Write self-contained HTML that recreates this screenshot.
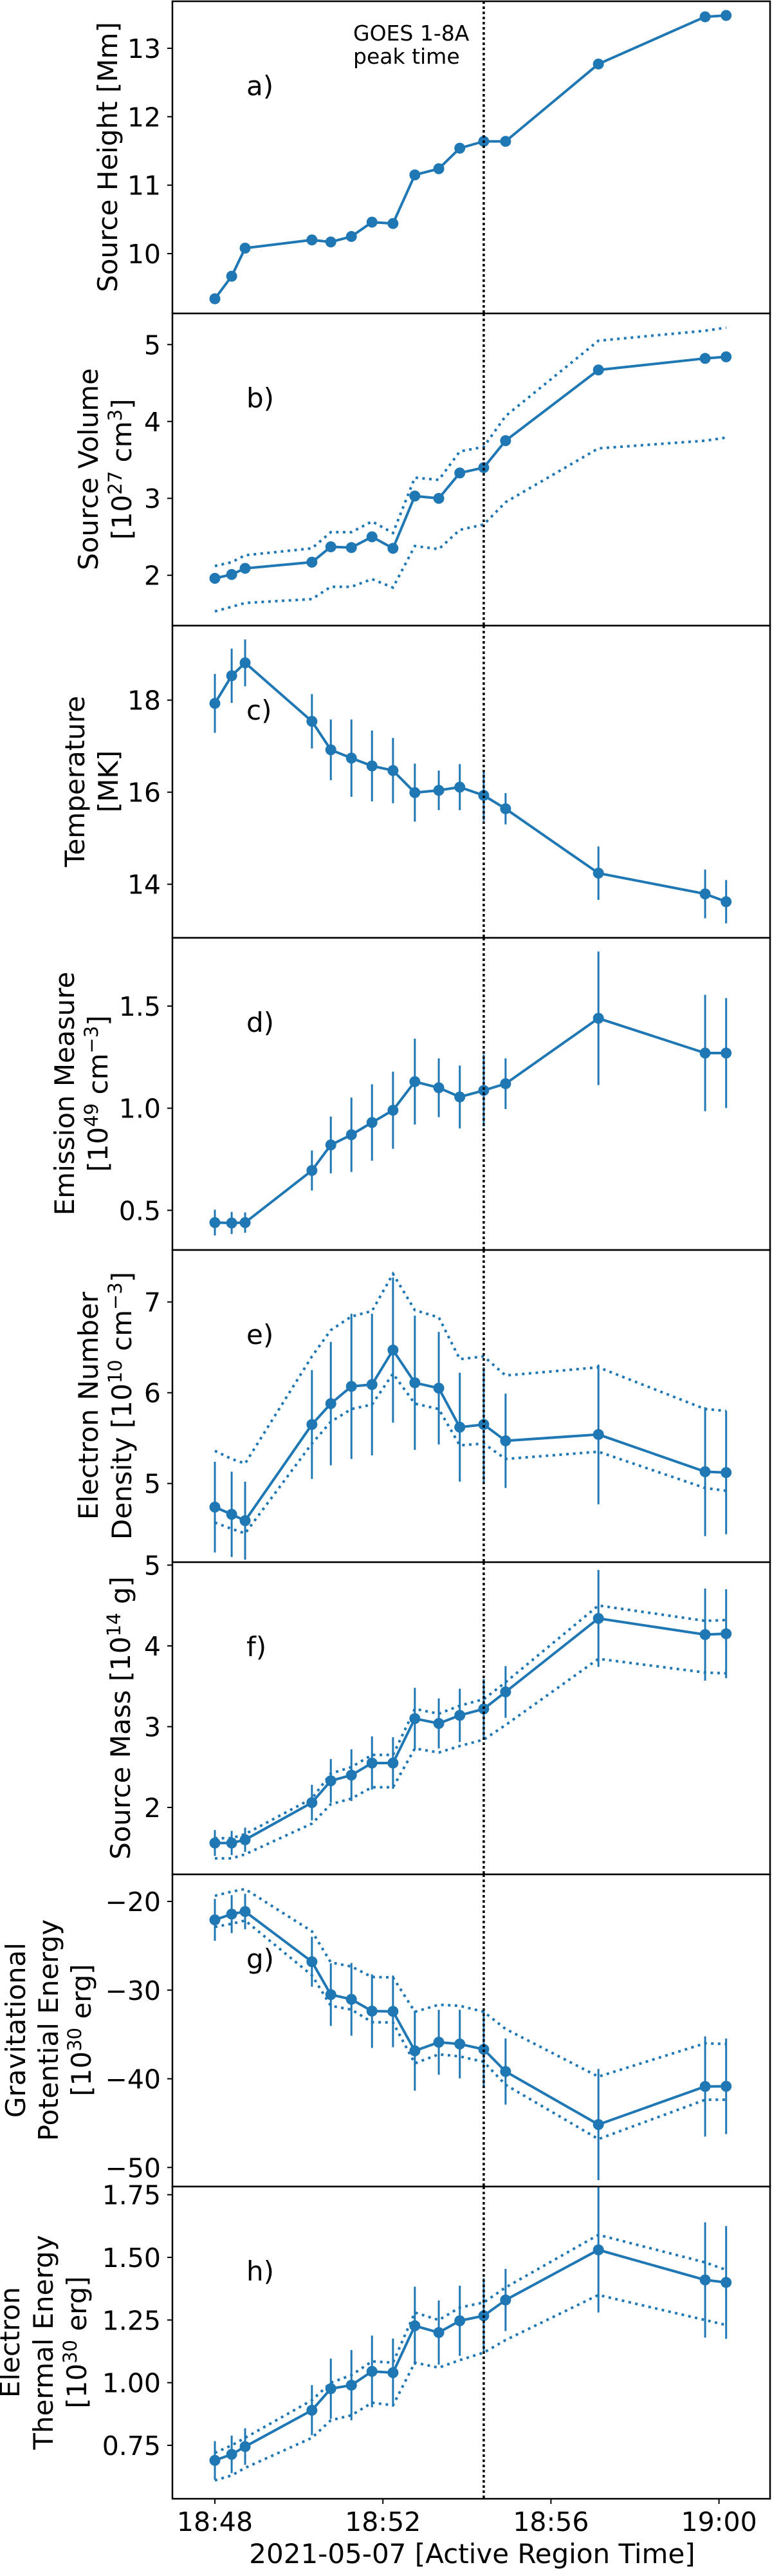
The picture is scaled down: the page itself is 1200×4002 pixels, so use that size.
<!DOCTYPE html>
<html><head><meta charset="utf-8"><title>Flare source parameters</title>
<style>html,body{margin:0;padding:0;background:#fff}svg{display:block}text{font-family:"DejaVu Sans","Liberation Sans",sans-serif;fill:#000}</style>
</head><body>
<svg id="chart" width="1200" height="4002" viewBox="0 0 1200 4002" xmlns="http://www.w3.org/2000/svg"></svg>
<script>
// ---- shared x data (minutes after 18:48) ----
const timesMin = [0,0.40,0.72,2.31,2.76,3.25,3.74,4.24,4.76,5.33,5.83,6.40,6.92,9.13,11.67,12.17];
const xTickMin = [0,4,8,12];
const xTickLabels = ["18:48","18:52","18:56","19:00"];
const peakMin = 6.40;

// a) source height
const heightVals = [9.34,9.67,10.08,10.20,10.17,10.25,10.46,10.44,11.15,11.24,11.54,11.64,11.64,12.77,13.46,13.48];
const heightTicks = [10,11,12,13];
// b) source volume
const volumeVals = [1.96,2.01,2.09,2.17,2.37,2.36,2.50,2.35,3.03,3.00,3.33,3.40,3.75,4.67,4.82,4.84];
const volumeUpper = [2.12,2.17,2.26,2.35,2.56,2.56,2.70,2.55,3.27,3.24,3.61,3.67,4.07,5.05,5.18,5.22];
const volumeLower = [1.53,1.59,1.64,1.69,1.85,1.85,1.95,1.84,2.38,2.34,2.59,2.66,2.95,3.65,3.75,3.79];
const volumeTicks = [2,3,4,5];
// c) temperature
const tempVals = [17.93,18.53,18.81,17.54,16.92,16.74,16.57,16.47,15.99,16.04,16.11,15.93,15.64,14.24,13.79,13.62];
const tempErr = [0.64,0.59,0.51,0.59,0.66,0.84,0.77,0.71,0.63,0.43,0.50,0.55,0.34,0.58,0.53,0.47];
const tempTicks = [14,16,18];
// d) emission measure
const emVals = [0.44,0.438,0.44,0.695,0.82,0.87,0.93,0.99,1.13,1.10,1.055,1.087,1.12,1.44,1.27,1.27];
const emErr = [0.063,0.054,0.05,0.098,0.139,0.182,0.187,0.189,0.21,0.144,0.154,0.176,0.124,0.327,0.285,0.269];
const emTicks = [0.5,1.0,1.5];
// e) density
const densVals = [4.74,4.66,4.59,5.65,5.88,6.07,6.09,6.47,6.11,6.05,5.62,5.65,5.47,5.54,5.13,5.12];
const densErr = [0.50,0.47,0.43,0.60,0.68,0.80,0.78,0.80,0.74,0.62,0.60,0.63,0.52,0.77,0.71,0.68];
const densUpper = [5.36,5.27,5.22,6.40,6.69,6.84,6.90,7.31,6.91,6.83,6.37,6.40,6.19,6.28,5.82,5.80];
const densLower = [4.57,4.50,4.45,5.44,5.68,5.82,5.87,6.21,5.88,5.82,5.42,5.44,5.27,5.35,4.95,4.92];
const densTicks = [5,6,7];
// f) mass
const massVals = [1.56,1.56,1.60,2.06,2.33,2.40,2.55,2.55,3.10,3.04,3.14,3.22,3.43,4.34,4.14,4.15];
const massErr = [0.16,0.15,0.15,0.22,0.27,0.32,0.33,0.32,0.38,0.31,0.33,0.37,0.32,0.60,0.57,0.55];
const massUpper = [1.62,1.62,1.67,2.11,2.42,2.50,2.65,2.65,3.22,3.16,3.26,3.34,3.55,4.50,4.31,4.32];
const massLower = [1.37,1.37,1.42,1.80,2.04,2.11,2.25,2.25,2.73,2.68,2.76,2.84,3.02,3.84,3.67,3.66];
const massTicks = [2,3,4,5];
// g) gravitational potential energy
const gpeVals = [-22.08,-21.43,-21.14,-26.80,-30.51,-31.04,-32.37,-32.40,-36.85,-35.88,-36.08,-36.68,-39.18,-45.16,-40.87,-40.85];
const gpeErr = [2.36,2.14,2.0,2.82,3.53,4.1,4.15,4.04,4.5,3.66,3.87,4.3,3.73,6.27,5.65,5.39];
const gpeUpper = [-19.37,-18.89,-18.60,-23.37,-26.88,-27.34,-28.52,-28.57,-32.45,-31.65,-31.77,-32.45,-34.38,-39.76,-36.0,-36.08];
const gpeLower = [-22.88,-22.52,-22.15,-28.33,-31.77,-32.20,-33.61,-33.66,-38.26,-37.24,-37.48,-38.09,-40.68,-46.80,-42.37,-42.37];
const gpeTicks = [-50,-40,-30,-20];
// h) thermal energy
const theVals = [0.69,0.714,0.745,0.89,0.976,0.99,1.045,1.04,1.227,1.20,1.247,1.267,1.33,1.53,1.41,1.40];
const theErr = [0.077,0.075,0.073,0.10,0.12,0.14,0.143,0.136,0.156,0.128,0.14,0.15,0.124,0.25,0.23,0.225];
const theUpper = [0.72,0.75,0.78,0.93,1.00,1.03,1.085,1.08,1.28,1.25,1.30,1.32,1.38,1.59,1.48,1.45];
const theLower = [0.61,0.63,0.66,0.78,0.85,0.87,0.92,0.91,1.08,1.06,1.09,1.12,1.17,1.35,1.25,1.23];
const theTicks = [0.75,1.00,1.25,1.50,1.75];

const NS = "http://www.w3.org/2000/svg";
const svg = document.getElementById('chart');
const C0 = "#1f77b4";
const L = 268, R = 1197, PH = 485, TOP0 = 2;
function xScale(m){ return 334 + m * 65.3; }
function mk(tag, attrs, parent){
  const e = document.createElementNS(NS, tag);
  for (const k in attrs) e.setAttribute(k, attrs[k]);
  (parent || svg).appendChild(e);
  return e;
}
function fmt(v, ticks){
  const dec = ticks.some(t => Math.abs(t*10 - Math.round(t*10)) > 1e-6) ? 2 : (ticks.some(t => !Number.isInteger(t)) ? 1 : 0);
  return v.toFixed(dec).replace('-', '\u2212');
}

const panels = [
  {key:'a', vals:heightVals, ticks:heightTicks, cal:[13,75,10,394], lines:[{t:'Source Height [Mm]',x:182}]},
  {key:'b', vals:volumeVals, up:volumeUpper, lo:volumeLower, ticks:volumeTicks, cal:[5,535.3,2,893.7],
    lines:[{t:'Source Volume',x:152},{h:'[10<tspan dy="-15" font-size="29">27</tspan><tspan dy="15"> cm</tspan><tspan dy="-15" font-size="29">3</tspan><tspan dy="15">]</tspan>',x:204}]},
  {key:'c', vals:tempVals, err:tempErr, ticks:tempTicks, cal:[18,1087.7,14,1373.7], lines:[{t:'Temperature',x:131},{t:'[MK]',x:183}]},
  {key:'d', vals:emVals, err:emErr, ticks:emTicks, cal:[1.5,1563,0.5,1880.3],
    lines:[{t:'Emission Measure',x:115},{h:'[10<tspan dy="-15" font-size="29">49</tspan><tspan dy="15"> cm</tspan><tspan dy="-15" font-size="29">\u22123</tspan><tspan dy="15">]</tspan>',x:167}]},
  {key:'e', vals:densVals, err:densErr, up:densUpper, lo:densLower, ticks:densTicks, cal:[7,2022.7,5,2304.7],
    lines:[{t:'Electron Number',x:152},{h:'Density [10<tspan dy="-15" font-size="29">10</tspan><tspan dy="15"> cm</tspan><tspan dy="-15" font-size="29">\u22123</tspan><tspan dy="15">]</tspan>',x:204}]},
  {key:'f', vals:massVals, err:massErr, up:massUpper, lo:massLower, ticks:massTicks, cal:[4,2557,2,2808],
    lines:[{h:'Source Mass [10<tspan dy="-15" font-size="29">14</tspan><tspan dy="15"> g]</tspan>',x:202}]},
  {key:'g', vals:gpeVals, err:gpeErr, up:gpeUpper, lo:gpeLower, ticks:gpeTicks, cal:[-20,2954,-50,3367.3],
    lines:[{t:'Gravitational',x:39},{t:'Potential Energy',x:90},{h:'[10<tspan dy="-15" font-size="29">30</tspan><tspan dy="15"> erg]</tspan>',x:141}]},
  {key:'h', vals:theVals, err:theErr, up:theUpper, lo:theLower, ticks:theTicks, cal:[1.50,3507,0.75,3799],
    lines:[{t:'Electron',x:30},{t:'Thermal Energy',x:82},{h:'[10<tspan dy="-15" font-size="29">30</tspan><tspan dy="15"> erg]</tspan>',x:134}]}
];

panels.forEach((p, i) => {
  const top = TOP0 + i * PH, bot = top + PH;
  const [v1, y1, v2, y2] = p.cal;
  const yS = v => y1 + (v - v1) * (y2 - y1) / (v2 - v1);
  const g = mk('g', {});
  
  
  const bg = mk('rect', {x:L, y:top, width:R-L, height:PH, fill:'#fff'}, g);
  
  
  p.ticks.forEach(t => {
    const y = yS(t);
    if (y < top - 12 || y > bot + 12) return;
    const tk = mk('line', {x1:L-8, x2:L, y1:y, y2:y, stroke:'#000', 'stroke-width':2}, g);
    
    
    const lb = mk('text', {x:L-18, y:y+15, 'text-anchor':'end', 'font-size':41}, g);
    
    
    lb.textContent = fmt(t, p.ticks);
  });
  const cy = top + 242;
  p.lines.forEach(ln => {
    const t = mk('text', {transform:`translate(${ln.x},${cy}) rotate(-90)`, 'text-anchor':'middle', 'font-size':42}, g);
    
    
    if (ln.h) t.innerHTML = ln.h; else t.textContent = ln.t;
  });
  const lt = mk('text', {x:383, y:top+146, 'font-size':42}, g);
  
  
  lt.textContent = p.key + ')';
  [p.up, p.lo].forEach((arr, j) => {
    if (!arr) return;
    const pts = arr.map((v, k) => xScale(timesMin[k]) + ',' + yS(v)).join(' ');
    const b = mk('polyline', {points:pts, fill:'none', stroke:C0, 'stroke-width':4, 'stroke-dasharray':'4 6.6'}, g);
    
    
  });
  const pts = p.vals.map((v, k) => xScale(timesMin[k]) + ',' + yS(v)).join(' ');
  const ml = mk('polyline', {points:pts, fill:'none', stroke:C0, 'stroke-width':4, 'stroke-linejoin':'round'}, g);
  
  
  if (p.err) p.vals.forEach((v, k) => {
    const x = xScale(timesMin[k]);
    const e = mk('line', {x1:x, x2:x, y1:yS(v + p.err[k]), y2:yS(v - p.err[k]), stroke:C0, 'stroke-width':3}, g);
    
    
  });
  p.vals.forEach((v, k) => {
    const c = mk('ellipse', {cx:xScale(timesMin[k]), cy:yS(v), rx:8.5, ry:8.5, fill:C0}, g);
    
    
  });
  const vx = xScale(peakMin);
  const vl = mk('line', {x1:vx, x2:vx, y1:top, y2:bot, stroke:'#000', 'stroke-width':3.5, 'stroke-dasharray':'4 4'}, g);
  
  
  const fr = mk('rect', {x:L, y:top, width:R-L, height:PH, fill:'none', stroke:'#000', 'stroke-width':2.5}, g);
  
  
});

const ga = mk('text', {x:549, y:63, 'font-size':33});


ga.textContent = 'GOES 1-8A';
const gb = mk('text', {x:549, y:99, 'font-size':33});


gb.textContent = 'peak time';

const xb = TOP0 + 8 * PH;
xTickMin.forEach((m, i) => {
  const x = xScale(m);
  const t = mk('line', {x1:x, x2:x, y1:xb, y2:xb+8, stroke:'#000', 'stroke-width':2});
  
  
  const l = mk('text', {x:x, y:3932, 'text-anchor':'middle', 'font-size':41});
  
  
  l.textContent = xTickLabels[i];
});
const xl = mk('text', {x:734, y:3982, 'text-anchor':'middle', 'font-size':42});


xl.textContent = '2021-05-07 [Active Region Time]';
</script>
</body></html>
